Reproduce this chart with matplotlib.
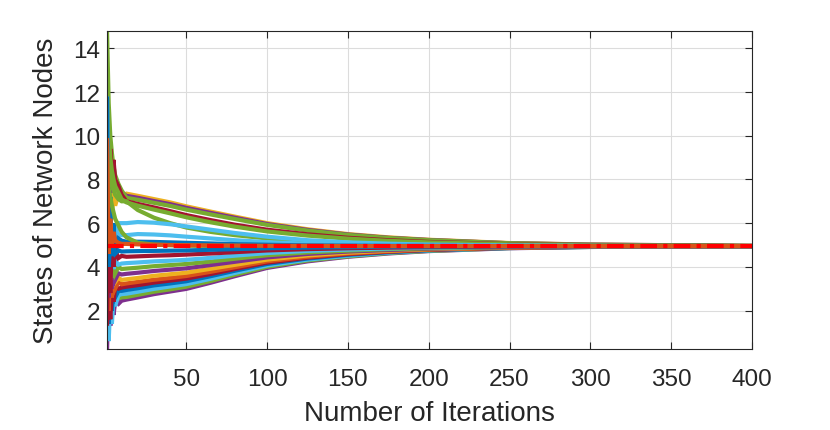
import numpy as np
import matplotlib
matplotlib.use("Agg")
import matplotlib.pyplot as plt

plt.rcParams['font.family'] = ['Liberation Sans', 'DejaVu Sans']

iters = [1, 2, 3, 4, 5, 6, 8, 10, 13, 20, 30, 40, 50, 65, 80, 100, 125, 150, 175, 200, 250, 300, 400]

# states of every node at those iterations
nodes = {
    'U1':  [10.3, 6.2, 7.8, 6.4, 7.3, 6.8, 7.3, 7.2, 7.35, 7.25, 7.10, 6.95, 6.77, 6.53, 6.30, 6.00, 5.72, 5.50, 5.35, 5.24, 5.09, 5.02, 4.96],
    'U2':  [8.5, 7.0, 8.4, 7.4, 8.0, 7.6, 7.7, 7.4, 7.25, 7.16, 7.01, 6.87, 6.70, 6.47, 6.25, 5.96, 5.69, 5.48, 5.33, 5.23, 5.08, 5.02, 4.96],
    'U3':  [14.7, 11.5, 10.0, 9.2, 8.6, 8.2, 7.8, 7.5, 7.16, 7.07, 6.93, 6.79, 6.62, 6.40, 6.19, 5.92, 5.66, 5.46, 5.32, 5.22, 5.08, 5.01, 4.96],
    'U4':  [11.3, 8.0, 9.4, 8.3, 8.9, 8.0, 7.7, 7.3, 7.00, 6.88, 6.72, 6.55, 6.37, 6.14, 5.93, 5.70, 5.49, 5.33, 5.22, 5.14, 5.04, 4.99, 4.95],
    'U5':  [12.5, 10.2, 9.0, 8.4, 8.0, 7.7, 7.4, 7.1, 6.95, 6.80, 6.62, 6.45, 6.27, 6.04, 5.84, 5.62, 5.43, 5.29, 5.19, 5.12, 5.03, 4.98, 4.95],
    'U6':  [9.0, 8.4, 8.0, 7.7, 7.5, 7.3, 7.1, 7.0, 7.00, 6.60, 6.25, 6.00, 5.80, 5.60, 5.45, 5.30, 5.17, 5.09, 5.04, 5.01, 4.97, 4.96, 4.95],
    'U7':  [11.7, 4.5, 6.8, 4.6, 6.0, 5.2, 6.0, 6.0, 6.00, 6.05, 6.02, 5.95, 5.85, 5.70, 5.55, 5.38, 5.22, 5.12, 5.06, 5.02, 4.98, 4.96, 4.95],
    'U8':  [5.2, 3.8, 5.9, 4.6, 5.6, 5.0, 5.5, 5.45, 5.45, 5.50, 5.48, 5.44, 5.38, 5.30, 5.22, 5.13, 5.06, 5.02, 4.99, 4.97, 4.96, 4.95, 4.95],
    'U9':  [11.7, 2.8, 7.2, 3.8, 6.0, 4.6, 5.3, 5.2, 5.15, 5.15, 5.14, 5.12, 5.10, 5.07, 5.04, 5.01, 4.98, 4.97, 4.96, 4.96, 4.95, 4.95, 4.95],
    'U10': [9.5, 7.6, 7.2, 6.8, 6.5, 6.2, 5.9, 5.6, 5.35, 5.10, 5.02, 4.99, 4.97, 4.96, 4.96, 4.95, 4.95, 4.95, 4.95, 4.95, 4.95, 4.95, 4.95],
    'L1':  [0.24, 3.2, 1.3, 2.6, 1.8, 2.4, 2.3, 2.45, 2.50, 2.60, 2.75, 2.87, 2.99, 3.27, 3.57, 3.95, 4.25, 4.46, 4.61, 4.72, 4.85, 4.91, 4.95],
    'L2':  [1.0, 2.9, 1.8, 2.6, 2.2, 2.5, 2.55, 2.6, 2.62, 2.72, 2.86, 2.97, 3.09, 3.35, 3.64, 4.00, 4.29, 4.48, 4.63, 4.73, 4.86, 4.91, 4.95],
    'L3':  [2.0, 0.6, 2.4, 1.4, 2.6, 2.2, 2.7, 2.75, 2.77, 2.86, 2.99, 3.10, 3.21, 3.45, 3.72, 4.06, 4.33, 4.51, 4.65, 4.75, 4.86, 4.91, 4.95],
    'L4':  [3.5, 1.4, 3.2, 2.0, 3.0, 2.6, 2.9, 2.9, 2.94, 3.02, 3.15, 3.24, 3.34, 3.57, 3.82, 4.13, 4.38, 4.55, 4.67, 4.76, 4.87, 4.92, 4.95],
    'L5':  [1.4, 2.7, 1.6, 2.9, 2.4, 3.1, 3.0, 3.05, 3.09, 3.16, 3.28, 3.37, 3.46, 3.67, 3.90, 4.19, 4.42, 4.58, 4.69, 4.78, 4.87, 4.92, 4.95],
    'L6':  [5.0, 2.0, 4.2, 2.6, 3.6, 3.0, 3.3, 3.2, 3.24, 3.31, 3.41, 3.49, 3.58, 3.77, 3.98, 4.25, 4.46, 4.61, 4.71, 4.79, 4.88, 4.92, 4.95],
    'L7':  [7.0, 3.2, 6.0, 3.0, 4.5, 3.3, 3.5, 3.4, 3.43, 3.49, 3.59, 3.66, 3.73, 3.91, 4.09, 4.33, 4.52, 4.65, 4.74, 4.81, 4.89, 4.93, 4.95],
    'L8':  [4.2, 2.6, 4.6, 3.0, 4.0, 3.4, 3.7, 3.65, 3.68, 3.73, 3.81, 3.87, 3.93, 4.08, 4.23, 4.43, 4.59, 4.70, 4.77, 4.83, 4.90, 4.93, 4.95],
    'L9':  [6.0, 3.2, 5.0, 3.5, 4.3, 3.7, 4.0, 3.9, 3.92, 3.96, 4.03, 4.08, 4.13, 4.24, 4.37, 4.53, 4.66, 4.74, 4.81, 4.85, 4.91, 4.93, 4.95],
    'L10': [3.0, 5.0, 3.4, 4.6, 3.9, 4.3, 4.1, 4.15, 4.17, 4.20, 4.25, 4.28, 4.32, 4.41, 4.51, 4.63, 4.73, 4.79, 4.84, 4.88, 4.92, 4.94, 4.95],
    'L11': [1.8, 6.2, 2.8, 5.4, 4.0, 4.8, 4.4, 4.5, 4.46, 4.48, 4.51, 4.53, 4.56, 4.61, 4.67, 4.75, 4.81, 4.85, 4.88, 4.90, 4.93, 4.94, 4.95],
    'L12': [5.5, 4.0, 5.1, 4.5, 4.9, 4.6, 4.75, 4.7, 4.71, 4.72, 4.73, 4.74, 4.75, 4.78, 4.81, 4.85, 4.88, 4.90, 4.92, 4.93, 4.94, 4.95, 4.95],
    'L13': [9.8, 4.6, 6.2, 5.0, 5.6, 5.2, 5.1, 5.05, 5.05, 5.03, 5.01, 5.00, 4.99, 4.98, 4.97, 4.96, 4.96, 4.95, 4.95, 4.95, 4.95, 4.95, 4.95],
}
consensus = 4.95

matlab = ['#0072BD', '#D95319', '#EDB120', '#7E2F8E', '#77AC30', '#4DBEEE', '#A2142F']
node_colors = {
    'U1': 2, 'U2': 3, 'U3': 4, 'U4': 6, 'U5': 4, 'U6': 4, 'U7': 5, 'U8': 5,
    'U9': 0, 'U10': 4, 'L1': 3, 'L2': 4, 'L3': 5, 'L4': 0, 'L5': 6, 'L6': 1,
    'L7': 2, 'L8': 3, 'L9': 4, 'L10': 5, 'L11': 6, 'L12': 0, 'L13': 1,
}

fig = plt.figure(figsize=(8.3, 4.31), dpi=100)
ax = fig.add_axes([0.129, 0.188, 0.777, 0.738])

for name, vals in nodes.items():
    ax.plot(iters, vals, color=matlab[node_colors[name]], lw=3, solid_joinstyle='miter')

ax.plot([iters[0], iters[-1]], [consensus, consensus], color='red', ls='-.', lw=3,
        dashes=(4, 1.5, 1, 1.5))

ax.set_xlim(1, 400)
ax.set_ylim(0.24, 14.8)
ax.set_xticks([50, 100, 150, 200, 250, 300, 350, 400])
ax.set_yticks([2, 4, 6, 8, 10, 12, 14])
ax.grid(True, color='#dcdcdc', lw=0.8)
ax.set_axisbelow(True)
ax.tick_params(direction='in', top=True, right=True, length=5, labelsize=17.5,
               colors='#262626')
ax.tick_params(axis='x', pad=14)
ax.tick_params(axis='y', pad=5)
for s in ax.spines.values():
    s.set_color('#262626')
    s.set_linewidth(0.8)
ax.set_xlabel('Number of Iterations', fontsize=20, color='#262626', labelpad=7)
ax.set_ylabel('States of Network Nodes', fontsize=20, color='#262626', labelpad=10)

fig.savefig('out.png', dpi=100)
